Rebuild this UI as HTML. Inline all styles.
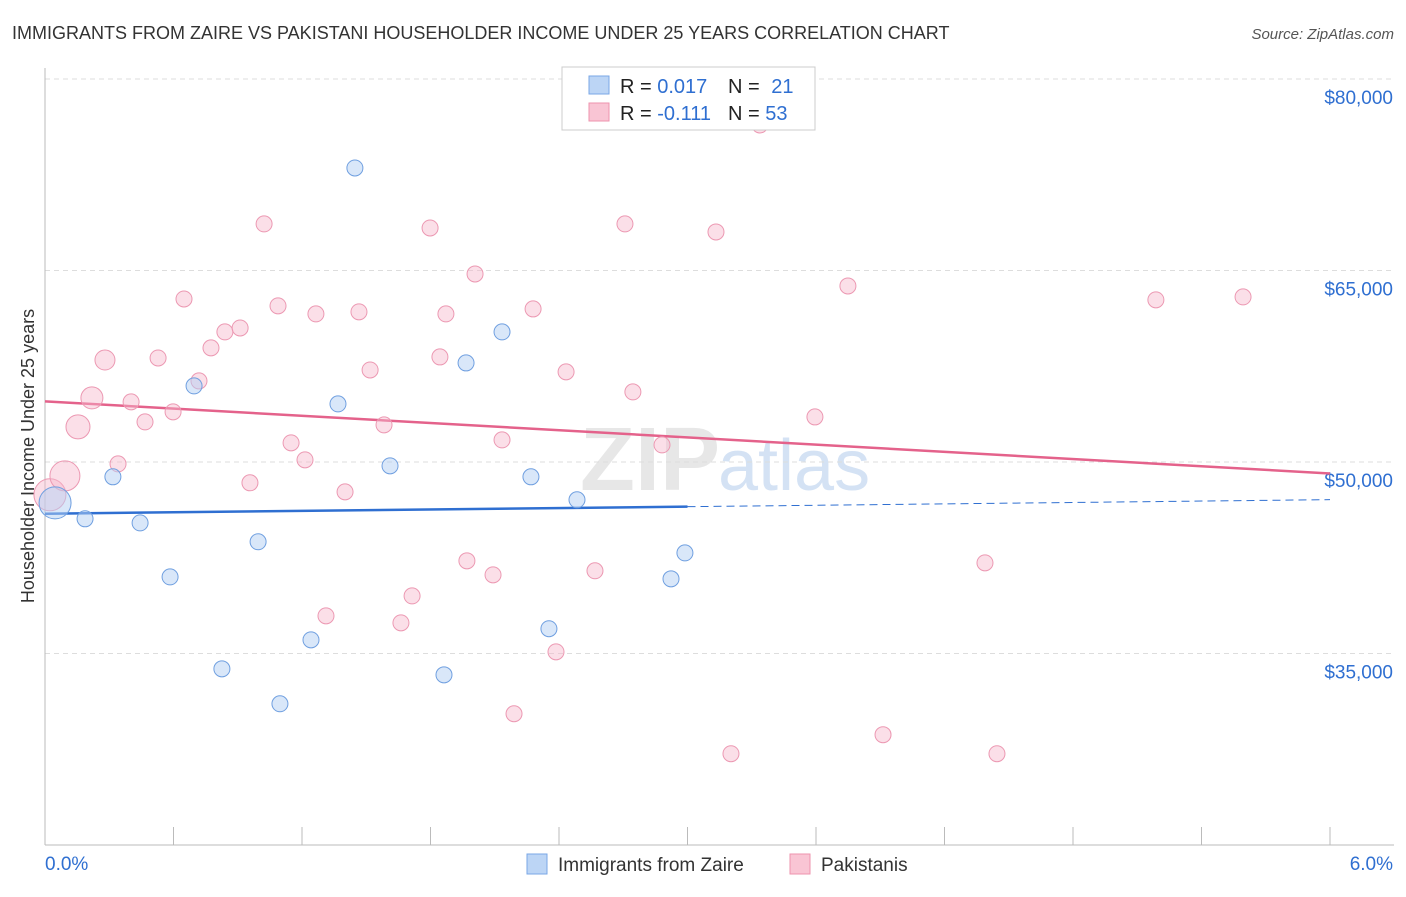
<!DOCTYPE html>
<html><head><meta charset="utf-8"><style>
body{margin:0;background:#fff;font-family:"Liberation Sans",sans-serif}
svg text{font-family:"Liberation Sans",sans-serif}
</style></head><body>
<svg width="1406" height="892" viewBox="0 0 1406 892" id="c">
<text x="12" y="39" font-size="18" fill="#333">IMMIGRANTS FROM ZAIRE VS PAKISTANI HOUSEHOLDER INCOME UNDER 25 YEARS CORRELATION CHART</text>
<text x="1394" y="39" font-size="15" fill="#555" text-anchor="end" font-style="italic">Source: ZipAtlas.com</text>
<text x="34" y="456" font-size="18" fill="#333" text-anchor="middle" transform="rotate(-90 34 456)">Householder Income Under 25 years</text>
<text x="720" y="490" font-size="90" fill="#d8d8d8" text-anchor="end" font-family="Liberation Serif" font-weight="bold" opacity="0.6">ZIP</text>
<text x="718" y="490" font-size="72" fill="#b9d0ee" opacity="0.6">atlas</text>
<g id="grid"></g><g id="axes"></g><g id="trend"></g><g id="pts"></g>
<g>
<rect x="562" y="67" width="253" height="63" fill="#fff" stroke="#ccc"/>
<rect x="589" y="76" width="20" height="18" fill="#bcd5f5" stroke="#7aa7e6"/>
<rect x="589" y="103" width="20" height="18" fill="#f9c5d4" stroke="#ee93ae"/>
<text x="620" y="93" font-size="20" fill="#222">R = <tspan fill="#2f6fd1">0.017</tspan></text>
<text x="728" y="93" font-size="20" fill="#222">N = <tspan fill="#2f6fd1" dx="6">21</tspan></text>
<text x="620" y="120" font-size="20" fill="#222">R = <tspan fill="#2f6fd1">-0.111</tspan></text>
<text x="728" y="120" font-size="20" fill="#222">N = <tspan fill="#2f6fd1">53</tspan></text>
</g>
<g>
<rect x="527" y="854" width="20" height="20" fill="#bcd5f5" stroke="#7aa7e6"/>
<text x="558" y="871" font-size="19" fill="#333">Immigrants from Zaire</text>
<rect x="790" y="854" width="20" height="20" fill="#f9c5d4" stroke="#ee93ae"/>
<text x="821" y="871" font-size="19" fill="#333">Pakistanis</text>
</g>
</svg>
<script>
const yTicks=[80000,65000,50000,35000];
const yTickLabels=["$80,000","$65,000","$50,000","$35,000"];
const xTickLabels=["0.0%","6.0%"];
const zaireX=[0.047,0.187,0.317,0.444,0.584,0.696,0.826,0.995,1.097,1.242,1.368,1.447,1.611,1.863,1.966,2.134,2.269,2.353,2.484,2.923,2.988];
const zaireY=[46800,45550,48840,45230,41000,55960,33800,43750,31060,36070,54550,73030,49700,33330,57760,60190,48840,36940,47040,40850,42880];
const pakX=[0.023,0.093,0.154,0.219,0.280,0.341,0.402,0.467,0.528,0.598,0.649,0.719,0.775,0.840,0.911,0.957,1.023,1.088,1.149,1.214,1.265,1.312,1.401,1.466,1.518,1.583,1.662,1.714,1.798,1.844,1.872,1.970,2.008,2.092,2.134,2.190,2.279,2.386,2.433,2.568,2.708,2.745,2.881,3.133,3.203,3.338,3.595,3.749,3.913,4.389,4.445,5.187,5.594];
const pakY=[47430,48910,52750,55020,57990,49850,54710,53140,58150,53930,62770,56350,58940,60190,60500,48370,68650,62230,51500,50170,61600,37950,47660,61760,57210,52910,37400,39510,68330,58230,61600,42260,64730,41160,51730,30280,61990,35130,57060,41480,68650,55490,51340,68020,27150,76400,53530,63790,28640,42100,27150,62700,62930];
const zaireTrend=[[0,45950],[3,46500],[6,47050]];
const pakTrend=[[0,54750],[6,49100]];
const sx=v=>45+v/6*1285;
const sy=v=>79+(80000-v)*383/30000;
const NS="http://www.w3.org/2000/svg";
function mk(t,a,p){const e=document.createElementNS(NS,t);for(const k in a)e.setAttribute(k,a[k]);document.getElementById(p).appendChild(e);return e;}
yTicks.forEach((v,i)=>{
 const l=mk('line',{x1:45,x2:1394,y1:sy(v),y2:sy(v),stroke:'#ddd','stroke-dasharray':'5,4'},'grid');
 
 
 const t=mk('text',{x:1393,y:sy(v)+25,'font-size':19,fill:'#2f6fd1','text-anchor':'end'},'axes');
 t.textContent=yTickLabels[i];
 
 
});
let a=mk('line',{x1:45,x2:45,y1:68,y2:845,stroke:'#bbb'},'axes');


a=mk('line',{x1:45,x2:1394,y1:845,y2:845,stroke:'#bbb'},'axes');


for(let i=1;i<=10;i++){const x=sx(i*0.6);const t=mk('line',{x1:x,x2:x,y1:827,y2:845,stroke:'#bbb'},'axes');
 
 }
xTickLabels.forEach((s,i)=>{const t=mk('text',{x:i?1393:45,y:870,'font-size':19,fill:'#2f6fd1','text-anchor':i?'end':'start'},'axes');t.textContent=s;
 
 });
const big={0:16,1:15,2:12,3:11,4:10};
pakX.forEach((x,i)=>{const c=mk('circle',{cx:sx(x),cy:sy(pakY[i]),r:i<5?big[i]:8,fill:'#f7b8cb','fill-opacity':0.45,stroke:'#ec98b2','stroke-width':1},'pts');
 
 });
zaireX.forEach((x,i)=>{const c=mk('circle',{cx:sx(x),cy:sy(zaireY[i]),r:i==0?16:8,fill:'#b3cff3','fill-opacity':0.5,stroke:'#6f9fe0','stroke-width':1},'pts');
 
 });
let t=mk('line',{x1:sx(zaireTrend[0][0]),y1:sy(zaireTrend[0][1]),x2:sx(zaireTrend[1][0]),y2:sy(zaireTrend[1][1]),stroke:'#2f6fd1','stroke-width':2.5},'trend');


t=mk('line',{x1:sx(zaireTrend[1][0]),y1:sy(zaireTrend[1][1]),x2:sx(zaireTrend[2][0]),y2:sy(zaireTrend[2][1]),stroke:'#2f6fd1','stroke-width':1,'stroke-dasharray':'8,5'},'trend');


t=mk('line',{x1:sx(pakTrend[0][0]),y1:sy(pakTrend[0][1]),x2:sx(pakTrend[1][0]),y2:sy(pakTrend[1][1]),stroke:'#e4628b','stroke-width':2.5},'trend');


</script>
</body></html>
